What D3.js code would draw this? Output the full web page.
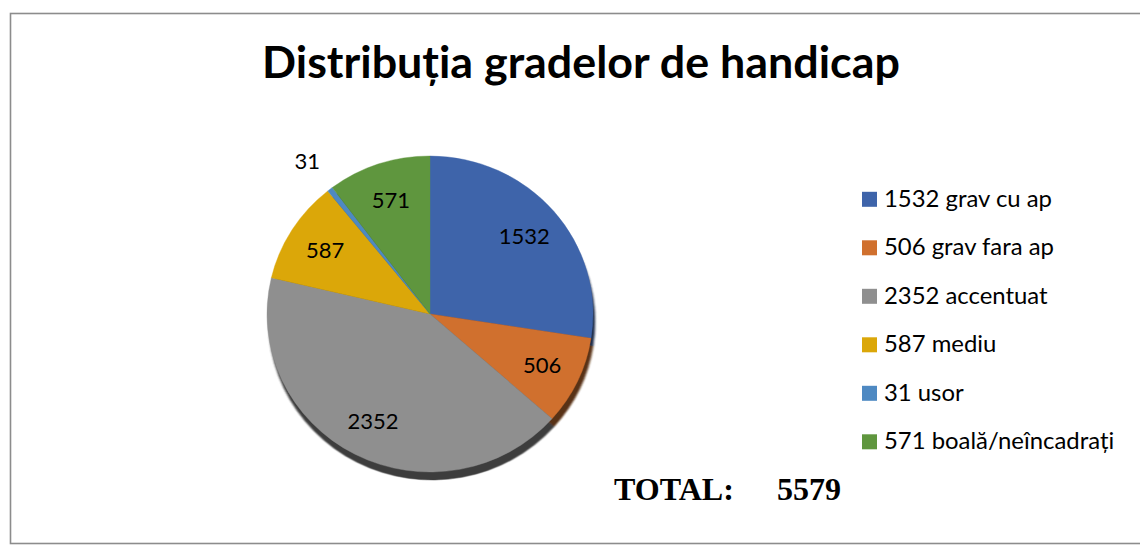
<!DOCTYPE html>
<html>
<head>
<meta charset="utf-8">
<script src="https://cdn.jsdelivr.net/npm/d3@7"></script>
<style>
  html, body { margin: 0; padding: 0; background: #fff; }
  svg { display: block; }
</style>
</head>
<body>
<svg id="chart" width="1140" height="547"></svg>
<script>
const titleText = "Distribuția gradelor de handicap";
const categories = ["grav cu ap", "grav fara ap", "accentuat", "mediu", "usor", "boală/neîncadrați"];
const values = [1532, 506, 2352, 587, 31, 571];
const colors = ["#3e64aa", "#d0702e", "#8f8f8f", "#dba709", "#4e89c2", "#5f963e"];
const totalLabel = "TOTAL:";
const totalValue = 5579;

const svg = d3.select("#chart");
const font = "Lato, 'Open Sans', sans-serif";
const serif = "'Liberation Serif', 'Times New Roman', serif";

// border
svg.append("rect")
  .attr("x", 10.5).attr("y", 13.5)
  .attr("width", 1200).attr("height", 530)
  .attr("fill", "#fff").attr("stroke", "#8c8c8c").attr("stroke-width", 1.6);

// title
const title = svg.append("text")
  .attr("x", 581).attr("y", 78)
  .attr("text-anchor", "middle")
  .attr("font-family", font).attr("font-weight", 700)
  .attr("font-size", 44).attr("fill", "#000")
  .text(titleText);
const tw = title.node().getComputedTextLength();
title.attr("font-size", 44 * 638 / tw);

// pie
const cx = 430, cy = 314, rx = 163, ry = 158;
const sy = ry / rx;
const pie = d3.pie().sort(null).value(d => d);
const arcs = pie(values);
const arc = d3.arc().innerRadius(0).outerRadius(rx);

const defs = svg.append("defs");
defs.append("filter").attr("id", "blur")
  .append("feGaussianBlur").attr("stdDeviation", 0.8);

const shadow = svg.append("g")
  .attr("transform", `translate(${cx + 2},${cy + 8}) scale(1,${sy})`)
  .attr("filter", "url(#blur)");
shadow.selectAll("path").data(arcs).join("path")
  .attr("d", arc)
  .attr("fill", (d, i) => d3.color(colors[i]).darker(2.4).formatHex())
  .attr("stroke", (d, i) => d3.color(colors[i]).darker(2.4).formatHex())
  .attr("stroke-width", 0.5);

const g = svg.append("g")
  .attr("transform", `translate(${cx},${cy}) scale(1,${sy})`);
g.selectAll("path").data(arcs).join("path")
  .attr("d", arc)
  .attr("fill", (d, i) => colors[i])
  .attr("stroke", (d, i) => colors[i])
  .attr("stroke-width", 0.4);

// labels
const labelFont = 22;
const inR = 124, outR = 200;
arcs.forEach((d, i) => {
  const a = (d.startAngle + d.endAngle) / 2;
  const small = (d.endAngle - d.startAngle) < 0.1;
  const r = small ? outR : inR;
  const x = cx + r * Math.sin(a);
  const y = cy - r * Math.cos(a) * sy;
  svg.append("text")
    .attr("x", x).attr("y", y)
    .attr("dy", "0.36em")
    .attr("text-anchor", "middle")
    .attr("font-family", font).attr("font-size", labelFont)
    .attr("fill", "#000")
    .text(values[i]);
});

// legend
const legX = 862, legY0 = 199.3, legStep = 48.5;
const leg = svg.append("g");
categories.forEach((c, i) => {
  const y = legY0 + i * legStep;
  leg.append("rect")
    .attr("x", legX).attr("y", y - 7.5)
    .attr("width", 15).attr("height", 15)
    .attr("fill", colors[i]);
  leg.append("text")
    .attr("class", "legtext")
    .attr("x", 884).attr("y", y + 7.5)
    .attr("font-family", font).attr("font-size", 20)
    .attr("fill", "#000")
    .text(values[i] + " " + c);
});
const firstW = leg.select(".legtext").node().getComputedTextLength();
leg.selectAll(".legtext").attr("font-size", 20 * 168 / firstW);

// total
const tl = svg.append("text")
  .attr("x", 614).attr("y", 500)
  .attr("font-family", serif)
  .attr("font-weight", 700).attr("font-size", 29)
  .attr("fill", "#000")
  .text(totalLabel);
const tlw = tl.node().getComputedTextLength();
const totalSize = 29 * 120 / tlw;
tl.attr("font-size", totalSize);
svg.append("text")
  .attr("x", 777).attr("y", 500)
  .attr("font-family", serif)
  .attr("font-weight", 700).attr("font-size", totalSize)
  .attr("fill", "#000")
  .text(totalValue);
</script>
</body>
</html>
